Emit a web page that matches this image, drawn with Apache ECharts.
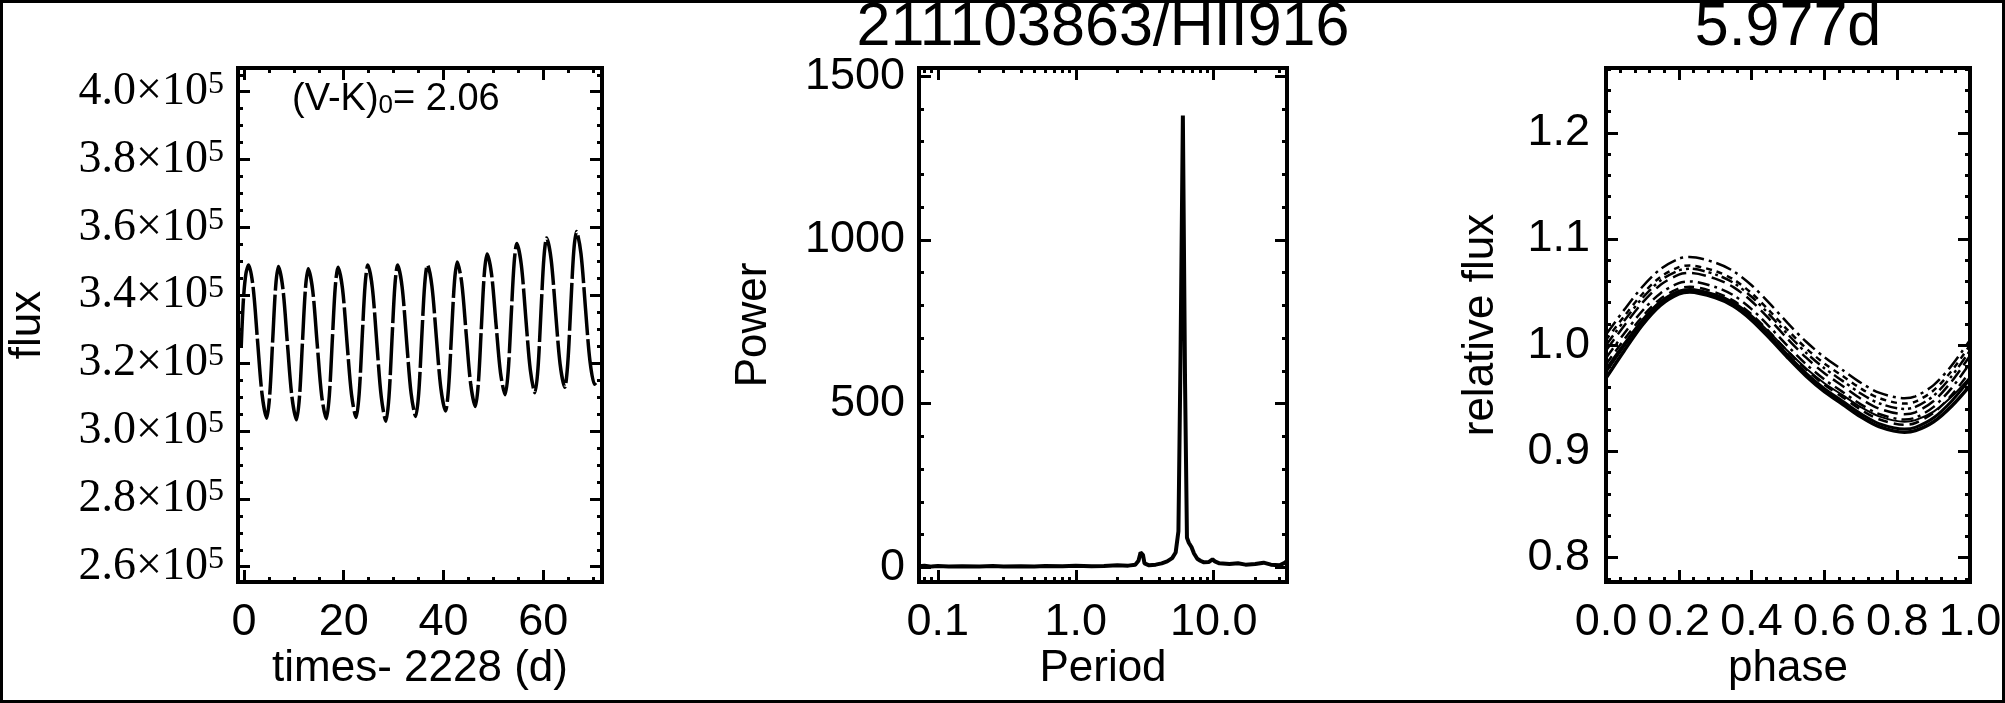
<!DOCTYPE html>
<html><head><meta charset="utf-8">
<script src="https://cdn.jsdelivr.net/npm/echarts@6/dist/echarts.min.js"></script>
<style>html,body{margin:0;padding:0;background:#fff}#c{width:2005px;height:703px}</style>
</head><body><div id="c"></div>
<script>
// ---------- Panel 1: light curve ----------
const lcTimes = [-0.55, -0.1, 0.4,
  0.93, 1.83, 2.73, 3.63, 4.56, 5.16, 5.76, 6.36,
  6.90, 7.80, 8.70, 9.60, 10.53, 11.13, 11.73, 12.33,
  12.88, 13.78, 14.68, 15.58, 16.51, 17.11, 17.71, 18.31,
  18.86, 19.76, 20.66, 21.56, 22.49, 23.09, 23.69, 24.29,
  24.84, 25.74, 26.64, 27.54, 28.47, 29.07, 29.67, 30.27,
  30.81, 31.71, 32.61, 33.51, 34.44, 35.04, 35.64, 36.24,
  36.79, 37.69, 38.59, 39.49, 40.42, 41.02, 41.62, 42.22,
  42.77, 43.67, 44.57, 45.47, 46.40, 47.00, 47.60, 48.20,
  48.75, 49.65, 50.55, 51.45, 52.38, 52.98, 53.58, 54.18,
  54.72, 55.62, 56.52, 57.42, 58.35, 58.95, 59.55, 60.15,
  60.70, 61.60, 62.50, 63.40, 64.33, 64.93, 65.53, 66.13,
  66.68, 67.58, 68.48, 69.38, 70.31, 70.60];
const lcFlux = [325000, 339000, 346500,
  348900, 342400, 326350, 310750, 303800, 310600, 326870, 342730,
  348500, 341990, 325900, 310260, 303300, 310060, 326260, 342060,
  347800, 341440, 325700, 310410, 303600, 310390, 326670, 342530,
  348300, 341920, 326150, 310820, 304000, 310820, 327170, 343110,
  348900, 342280, 325900, 309980, 302900, 309890, 326640, 342970,
  348900, 342480, 326600, 311170, 304300, 311080, 327310, 343150,
  348900, 342710, 327400, 312520, 305900, 312570, 328550, 344140,
  349800, 343670, 328500, 313760, 307200, 314040, 330420, 346400,
  352200, 346220, 331450, 317090, 310700, 317480, 333710, 349550,
  355300, 348960, 333300, 318080, 311300, 318230, 334830, 351020,
  356900, 350560, 334900, 319680, 312900, 319880, 336580, 352880,
  358800, 352320, 336300, 320730, 313800, 314200];
const lcXTicks = [0, 20, 40, 60];
const lcYTicks = [260000, 280000, 300000, 320000, 340000, 360000, 380000, 400000];

// ---------- Panel 2: periodogram ----------
const pgPeriod = [0.073, 0.08, 0.09, 0.1, 0.12, 0.15, 0.2, 0.25, 0.3, 0.4, 0.5, 0.6, 0.8, 1.0, 1.3, 1.6, 2.0, 2.4, 2.7, 2.85, 2.95, 3.0, 3.07, 3.15, 3.4, 3.8, 4.2, 4.6, 5.0, 5.3, 5.55, 5.75, 5.977, 6.2, 6.4, 6.6, 6.9, 7.2, 7.6, 8.0, 8.5, 9.2, 9.8, 10.2, 11, 13, 15, 17, 20, 23, 26, 30, 33, 34];
const pgPower = [3, 5, 2, 4, 2, 3, 2, 4, 2, 3, 2, 4, 3, 5, 3, 4, 6, 5, 8, 20, 45, 48, 38, 12, 6, 8, 12, 18, 28, 45, 110, 650, 1380, 560, 90, 75, 62, 42, 26, 20, 15, 16, 24, 18, 12, 10, 12, 8, 10, 14, 8, 6, 14, 20];
const pgXTicks = [0.1, 1, 10];
const pgYTicks = [0, 500, 1000, 1500];

// ---------- Panel 3: phase-folded curves ----------
const phase = [0, 0.05, 0.10, 0.15, 0.20, 0.23, 0.30, 0.35, 0.40, 0.45, 0.50, 0.55, 0.60, 0.65, 0.70, 0.75, 0.82, 0.85, 0.90, 0.95, 1.0];
const cycA = [0.969, 0.9948, 1.019, 1.0376, 1.0482, 1.050, 1.0447, 1.0368, 1.0236, 1.0064, 0.988, 0.9708, 0.9563, 0.9444, 0.9325, 0.9233, 0.918, 0.9195, 0.9279, 0.9428, 0.962];
const cycB = [0.975, 0.9996, 1.0225, 1.0402, 1.0503, 1.052, 1.0468, 1.0389, 1.0258, 1.0088, 0.9904, 0.9734, 0.959, 0.9472, 0.9354, 0.9262, 0.921, 0.9226, 0.9316, 0.9475, 0.968];
const cycC = [0.982, 1.0053, 1.027, 1.0438, 1.0534, 1.055, 1.0498, 1.042, 1.029, 1.0121, 0.9939, 0.977, 0.9627, 0.951, 0.9393, 0.9302, 0.925, 0.9267, 0.9363, 0.9532, 0.975];
const cycD = [0.988, 1.011, 1.0324, 1.049, 1.0584, 1.060, 1.0548, 1.047, 1.034, 1.0171, 0.9989, 0.982, 0.9677, 0.956, 0.9443, 0.9352, 0.930, 0.9317, 0.9419, 0.9598, 0.983];
const cycE = [0.978, 1.0019, 1.0243, 1.0415, 1.0513, 1.053, 1.048, 1.0405, 1.028, 1.0117, 0.9942, 0.978, 0.9642, 0.953, 0.9417, 0.933, 0.928, 0.9294, 0.9375, 0.9516, 0.970];
const cycF = [0.995, 1.0183, 1.040, 1.0568, 1.0664, 1.068, 1.0627, 1.0547, 1.0414, 1.0241, 1.0055, 0.9882, 0.9736, 0.9616, 0.9496, 0.9403, 0.935, 0.9368, 0.9474, 0.966, 0.990];
const cycG = [1.000, 1.023, 1.0444, 1.061, 1.0704, 1.072, 1.0667, 1.0588, 1.0456, 1.0284, 1.010, 0.9928, 0.9783, 0.9664, 0.9545, 0.9453, 0.940, 0.9418, 0.9524, 0.971, 0.995];
const cycH = [1.005, 1.0273, 1.0482, 1.0643, 1.0735, 1.075, 1.0698, 1.062, 1.049, 1.0321, 1.0139, 0.997, 0.9827, 0.971, 0.9593, 0.9502, 0.945, 0.9468, 0.9574, 0.976, 1.000];
const cycI = [1.010, 1.0333, 1.055, 1.0718, 1.0814, 1.083, 1.0777, 1.0697, 1.0564, 1.0391, 1.0205, 1.0032, 0.9886, 0.9766, 0.9646, 0.9553, 0.950, 0.9518, 0.9624, 0.981, 1.005];
const phXTicks = [0, 0.2, 0.4, 0.6, 0.8, 1.0];
const phYTicks = [0.8, 0.9, 1.0, 1.1, 1.2];

// ---------- helpers ----------
function zip(a, b) { return a.map((v, i) => [v, b[i]]); }
function stepTicks(start, end, step, majors) {
  const out = [];
  for (let k = 0; start + k * step <= end + 1e-9; k++) {
    const v = +(start + k * step).toFixed(6);
    if (!majors.some(m => Math.abs(m - v) < 1e-9)) out.push(v);
  }
  return out;
}
const logMinors = [0.08, 0.09, 0.2, 0.3, 0.4, 0.5, 0.6, 0.7, 0.8, 0.9, 2, 3, 4, 5, 6, 7, 8, 9, 20, 30];

const SANS = 'Liberation Sans, Arial, Helvetica, sans-serif';
const SERIF = 'Liberation Serif, Times New Roman, serif';

function axisSet(dim, gridIndex, common, majors, minors, labelCfg) {
  const posA = dim === 'x' ? 'bottom' : 'left';
  const posB = dim === 'x' ? 'top' : 'right';
  const base = Object.assign({ gridIndex, axisLine: { show: false, onZero: false }, splitLine: { show: false },
    minorTick: { show: false }, minorSplitLine: { show: false }, axisPointer: { show: false } }, common);
  const tick = (vals, len) => ({ show: true, inside: true, length: len, lineStyle: { color: '#000', width: 3 }, customValues: vals });
  return [
    Object.assign({}, base, { position: posA, axisTick: tick(majors, 12),
      axisLabel: Object.assign({ show: true, customValues: majors, color: '#000', fontFamily: SANS, fontSize: 45 }, labelCfg) }),
    Object.assign({}, base, { position: posB, axisTick: tick(majors, 12), axisLabel: { show: false } }),
    Object.assign({}, base, { position: posA, axisTick: tick(minors, 5), axisLabel: { show: false } }),
    Object.assign({}, base, { position: posB, axisTick: tick(minors, 5), axisLabel: { show: false } })
  ];
}

const lcYMin = 255500, lcYMax = 407000;
const phYMin = 0.777, phYMax = 1.261;

const xAxes = [].concat(
  axisSet('x', 0, { type: 'value', min: -1.2, max: 71.8 }, lcXTicks, stepTicks(0, 71, 5, lcXTicks),
    { margin: 18, formatter: v => String(Math.round(v)) }),
  axisSet('x', 1, { type: 'log', logBase: 10, min: 0.073, max: 34 }, pgXTicks, logMinors,
    { margin: 18, formatter: v => (+v).toFixed(1) }),
  axisSet('x', 2, { type: 'value', min: 0, max: 1 }, phXTicks, stepTicks(0, 1, 0.04, phXTicks),
    { margin: 18, formatter: v => (+v).toFixed(1) })
);
const yAxes = [].concat(
  axisSet('y', 0, { type: 'value', min: lcYMin, max: lcYMax }, lcYTicks, stepTicks(260000, 405000, 5000, lcYTicks),
    { margin: 14, formatter: v => '{a|' + (v / 1e5).toFixed(1) + '×10}{b|5}',
      rich: { a: { fontFamily: SERIF, fontSize: 46, lineHeight: 46, padding: [10, 0, 10, 0], color: '#000' },
              b: { fontFamily: SERIF, fontSize: 32, lineHeight: 32, verticalAlign: 'top', color: '#000' } } }),
  axisSet('y', 1, { type: 'value', min: -45, max: 1525 }, pgYTicks, stepTicks(0, 1500, 100, pgYTicks),
    { margin: 14, formatter: v => String(Math.round(v)) }),
  axisSet('y', 2, { type: 'value', min: phYMin, max: phYMax }, phYTicks, stepTicks(0.78, 1.26, 0.02, phYTicks),
    { margin: 16, formatter: v => (+v).toFixed(1) })
);

const phaseCurves = [
  { d: cycA, w: 3.5, t: 'solid' },
  { d: cycB, w: 3, t: 'solid' },
  { d: cycC, w: 2.5, t: [10, 6] },
  { d: cycD, w: 2.5, t: [12, 5, 3, 5] },
  { d: cycE, w: 2, t: 'solid' },
  { d: cycF, w: 2.5, t: [14, 6] },
  { d: cycG, w: 2.5, t: [12, 4, 3, 4, 3, 4] },
  { d: cycH, w: 2.5, t: [6, 5] },
  { d: cycI, w: 2.5, t: [16, 5, 3, 5] }
];

const series = [
  { type: 'line', xAxisIndex: 0, yAxisIndex: 0, data: zip(lcTimes, lcFlux), showSymbol: false,
    smooth: 0.3, lineStyle: { color: '#000', width: 3.5, type: [48, 4] }, silent: true },
  { type: 'line', xAxisIndex: 4, yAxisIndex: 4, data: zip(pgPeriod, pgPower), showSymbol: false,
    lineStyle: { color: '#000', width: 4 }, silent: true }
].concat(phaseCurves.map(c => ({
  type: 'line', xAxisIndex: 8, yAxisIndex: 8, data: zip(phase, c.d), showSymbol: false,
  smooth: 0.3, lineStyle: { color: '#000', width: c.w, type: c.t }, silent: true
})));

function txt(text, x, y, size, rot) {
  return { type: 'text', x, y, rotation: rot || 0, z: 50,
    style: { text, x: 0, y: 0, fill: '#000', fontSize: size, fontFamily: SANS,
      align: 'center', verticalAlign: 'middle', textAlign: 'center', textVerticalAlign: 'middle' } };
}

const graphics = [
  { type: 'rect', z: 100, shape: { x: 1.5, y: 1.5, width: 2002, height: 700 }, style: { fill: 'none', stroke: '#000', lineWidth: 3 } },
  txt('211103863/HII916', 1103, 28, 61),
  txt('5.977d', 1788, 28, 61),
  txt('flux', 28, 325, 44, Math.PI / 2),
  txt('Power', 754, 325, 44, Math.PI / 2),
  txt('relative flux', 1481, 325, 44, Math.PI / 2),
  txt('times- 2228 (d)', 420, 669, 44),
  txt('Period', 1103, 669, 44),
  txt('phase', 1788, 669, 44),
  { type: 'text', x: 292, y: 100, z: 50,
    style: { text: '{a|(V-K)}{b|0}{a|= 2.06}', x: 0, y: 0, fill: '#000', fontFamily: SANS,
      align: 'left', verticalAlign: 'middle', textAlign: 'left', textVerticalAlign: 'middle',
      rich: { a: { fontFamily: SANS, fontSize: 38, lineHeight: 38, padding: [0, 0, 7, 0], verticalAlign: 'top', fill: '#000', color: '#000' },
              b: { fontFamily: SANS, fontSize: 26, lineHeight: 26, verticalAlign: 'bottom', fill: '#000', color: '#000' } } } }
];

const chart = echarts.init(document.getElementById('c'), null, { renderer: 'canvas' });
chart.setOption({
  animation: false,
  backgroundColor: '#fff',
  grid: [
    { left: 238, top: 68, width: 364, height: 514, show: true, borderColor: '#000', borderWidth: 4, backgroundColor: 'transparent', containLabel: false },
    { left: 919, top: 68, width: 368, height: 514, show: true, borderColor: '#000', borderWidth: 4, backgroundColor: 'transparent', containLabel: false },
    { left: 1606, top: 68, width: 364, height: 514, show: true, borderColor: '#000', borderWidth: 4, backgroundColor: 'transparent', containLabel: false }
  ],
  xAxis: xAxes,
  yAxis: yAxes,
  series,
  graphic: graphics
});
</script>
</body></html>
